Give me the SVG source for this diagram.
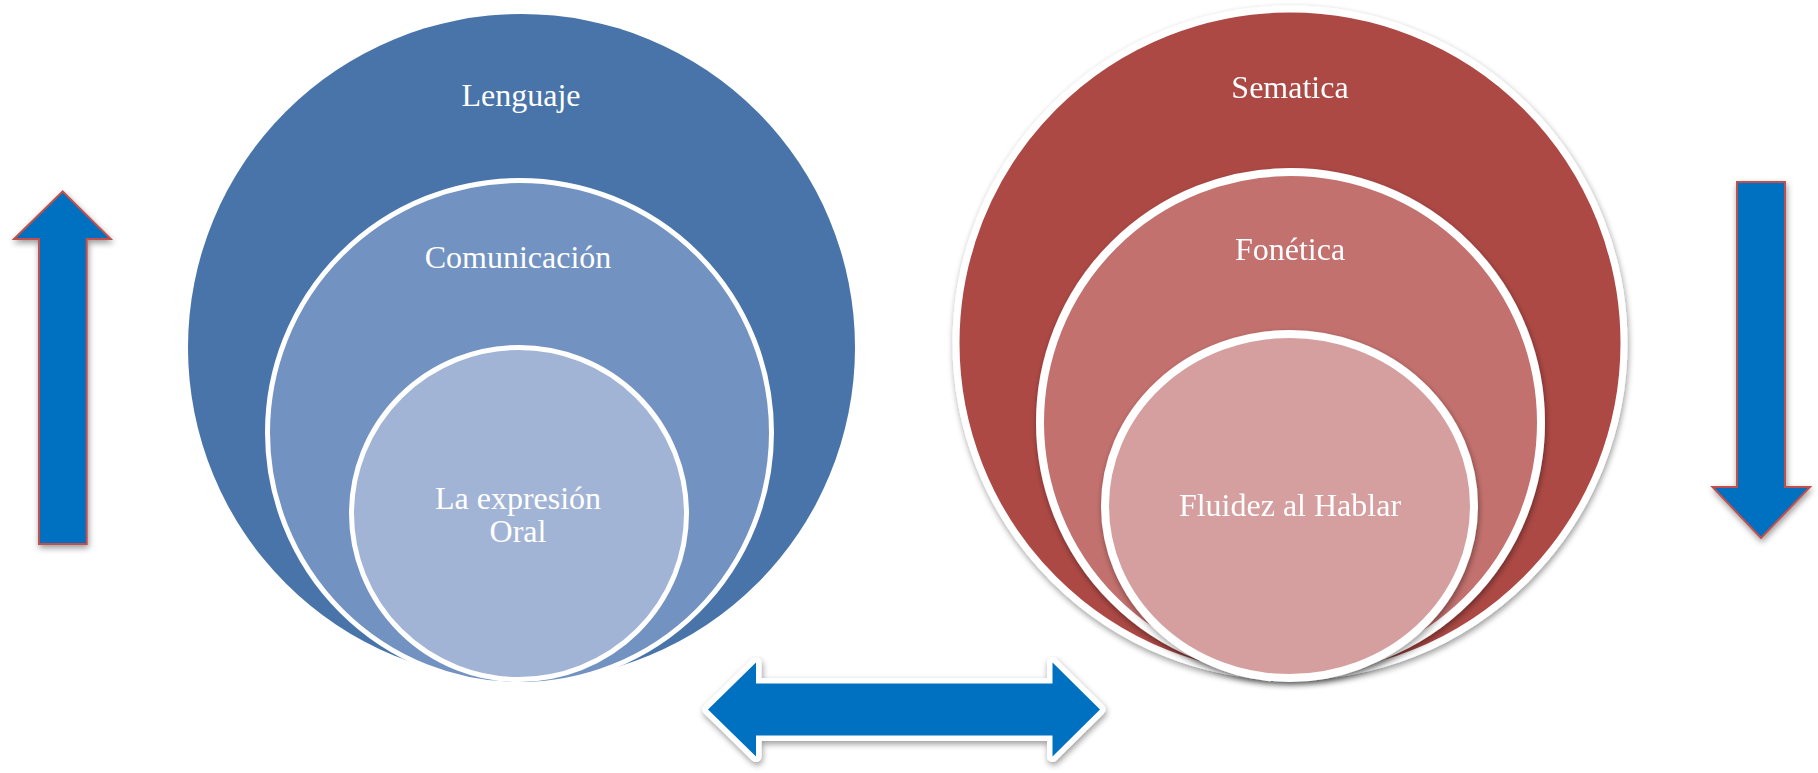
<svg xmlns="http://www.w3.org/2000/svg" width="1818" height="773" viewBox="0 0 1818 773">
  <defs>
    <filter id="sh" x="-10%" y="-10%" width="120%" height="125%">
      <feGaussianBlur in="SourceAlpha" stdDeviation="3"/>
      <feOffset dx="1" dy="3" result="b"/>
      <feComponentTransfer><feFuncA type="linear" slope="0.4"/></feComponentTransfer>
      <feMerge><feMergeNode/><feMergeNode in="SourceGraphic"/></feMerge>
    </filter>
    <style>
      .lbl { font-family: "Liberation Serif", "Times New Roman", serif; font-size: 32px; fill: #FFFFFF; text-anchor: middle; }
      .arrow { fill: #0070C0; stroke: #C0504D; stroke-width: 2; }
      .dbl { fill: #0070C0; stroke: #FFFFFF; stroke-width: 11; stroke-linejoin: round; paint-order: stroke; }
      .ringL { stroke: #FFFFFF; stroke-width: 5; }
      .ringR { stroke: #FFFFFF; stroke-width: 8; }
    </style>
  </defs>

  <g id="left-stack">
    <g id="lenguaje">
      <circle cx="521.5" cy="347.5" r="333.5" fill="#4874AA"/>
      <text class="lbl" x="521" y="106">Lenguaje</text>
    </g>
    <g id="comunicacion">
      <circle class="ringL" cx="519.5" cy="432.5" r="252" fill="#7292C1"/>
      <text class="lbl" x="518" y="268">Comunicación</text>
    </g>
    <g id="expresion-oral">
      <ellipse class="ringL" cx="519" cy="513.5" rx="167.5" ry="166" fill="#A2B4D5"/>
      <text class="lbl" x="518" y="509">La expresión</text>
      <text class="lbl" x="518" y="542">Oral</text>
    </g>
  </g>

  <g id="right-stack">
    <g id="sematica" filter="url(#sh)">
      <circle cx="1290" cy="343" r="334" fill="#AD4845" stroke="#FFFFFF" stroke-width="7"/>
      <text class="lbl" x="1290" y="98">Sematica</text>
    </g>
    <g id="fonetica" filter="url(#sh)">
      <circle class="ringR" cx="1290.5" cy="422.5" r="250.5" fill="#C3716E"/>
      <text class="lbl" x="1290" y="260">Fonética</text>
    </g>
    <g id="fluidez" filter="url(#sh)">
      <ellipse class="ringR" cx="1289.5" cy="506" rx="184.5" ry="172" fill="#D69F9F"/>
      <text class="lbl" x="1290" y="516">Fluidez al Hablar</text>
    </g>
  </g>

  <g id="connectors">
    <polygon id="arrow-up" class="arrow" filter="url(#sh)" points="62.7,191.5 110.7,239 86.7,239 86.7,544 39,544 39,239 14,239"/>
    <polygon id="arrow-down" class="arrow" filter="url(#sh)" points="1737,182 1785,182 1785,487 1810,487 1761,538 1712.5,487 1737,487"/>
    <polygon id="arrow-both" class="dbl" filter="url(#sh)" points="708,709.5 756,662.5 756,683.5 1052.5,683.5 1052.5,662.5 1100,709.5 1052.5,756.5 1052.5,735.5 756,735.5 756,756.5"/>
  </g>
</svg>
